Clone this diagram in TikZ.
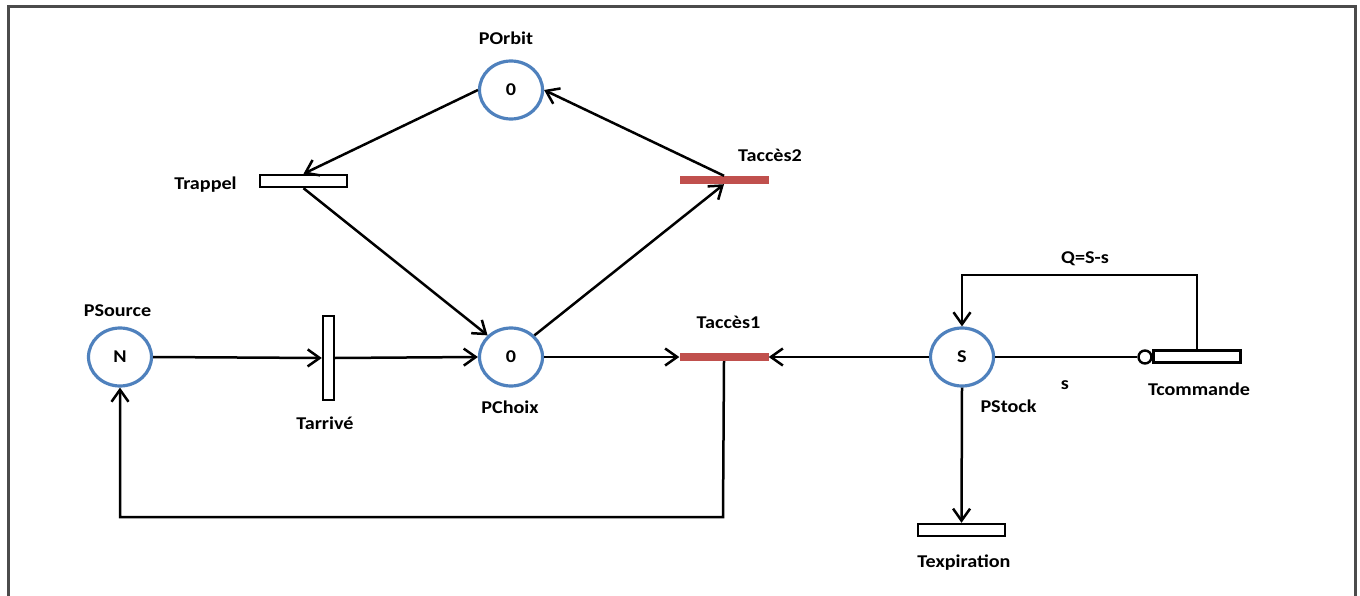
\documentclass[tikz,border=0pt]{standalone}
\usepackage{fontspec}
\setmainfont{Carlito}[FakeStretch=1.12]
\usetikzlibrary{shapes.geometric,arrows.meta}
\definecolor{placeblue}{RGB}{79,129,189}
\definecolor{fastred}{RGB}{192,80,77}
\definecolor{framegray}{RGB}{75,75,75}
\tikzset{
  place/.style={ellipse, draw=placeblue, line width=3.2pt, fill=white,
    minimum width=63pt, minimum height=58pt, inner sep=0pt,
    font=\fontsize{18}{21}\selectfont\bfseries},
  hbar/.style={rectangle, draw=black, line width=2.4pt, fill=white,
    minimum width=87pt, minimum height=12pt, inner sep=0pt},
  vbar/.style={rectangle, draw=black, line width=2.4pt, fill=white,
    minimum width=11pt, minimum height=84pt, inner sep=0pt},
  redbar/.style={rectangle, fill=fastred, draw=none,
    minimum width=89pt, minimum height=8pt, inner sep=0pt},
  inhib/.style={circle, draw=black, line width=2.4pt, fill=white,
    minimum size=13pt, inner sep=0pt},
  lbl/.style={anchor=base, inner sep=0pt,
    font=\fontsize{18}{21}\selectfont\bfseries},
  arc/.style={draw=black, line width=2.5pt,
    -{Straight Barb[length=12pt,width=17pt]}},
  plain/.style={draw=black, line width=2.5pt},
}
\begin{document}
\begin{tikzpicture}[x=1pt,y=-1pt]
\useasboundingbox (0,0) rectangle (1360,596);
% outer frame, open at the bottom
\draw[framegray, line width=3pt] (8,596) -- (8,7) -- (1355,7) -- (1355,596);

% places
\node[place] (porbit)  at (511,90)  {0};
\node[place] (psource) at (120,357) {N};
\node[place] (pchoix)  at (511,357) {0};
\node[place] (pstock)  at (962,357) {S};

% transitions
\node[hbar]   (trappel)  at (303.5,181) {};
\node[vbar]   (tarrive)  at (328.5,358) {};
\node[redbar] (tacces2)  at (724,180)   {};
\node[redbar] (tacces1)  at (724,357)   {};
\node[hbar]   (tcommande) at (1197,356.5) {};
\node[hbar]   (texpir)   at (961.5,530) {};
\node[inhib]  (inh)      at (1145,357)  {};

% labels
\node[lbl] (lorbit)  at (506,45)    {POrbit};
\node[lbl] (ltrappel) at (205.5,190) {Trappel};
\node[lbl] (lacc2)   at (770,162)   {Taccès2};
\node[lbl] (lsource) at (117.5,316) {PSource};
\node[lbl] (larrive) at (325,429)   {Tarrivé};
\node[lbl] (lchoix)  at (510,413)   {PChoix};
\node[lbl] (lacc1)   at (728.5,328) {Taccès1};
\node[lbl] (lq)      at (1085,263)  {Q=S-s};
\node[lbl] (ls)      at (1065,389)  {s};
\node[lbl] (lstock)  at (1008.5,412) {PStock};
\node[lbl] (lcmd)    at (1199,395)  {Tcommande};
\node[lbl] (lexp)    at (964,567)   {Texpiration};

% helper corners
\coordinate (loop) at (723,517);
\coordinate (qtop) at (1197,275);

% arcs
\draw[arc] (psource.east) -- (tarrive.west);
\draw[arc] (tarrive.east) -- (pchoix.west);
\draw[arc] (pchoix.east) -- (tacces1.west);
\draw[arc] (pstock.west) -- (tacces1.east);
\draw[arc] (porbit.west) -- (trappel.north);
\draw[arc] (trappel.south) -- (pchoix.north west);
\draw[arc] (pchoix.north east) -- (tacces2.south);
\draw[arc] (tacces2.north) -- (porbit.east);
\draw[arc] (tacces1.south) -- (loop) -| (psource.south);
\draw[arc] (pstock.south) -- (texpir.north);
\draw[arc] (tcommande.north) -- (qtop) -| (pstock.north);
\draw[plain] (pstock.east) -- (inh.west);
\end{tikzpicture}
\end{document}
